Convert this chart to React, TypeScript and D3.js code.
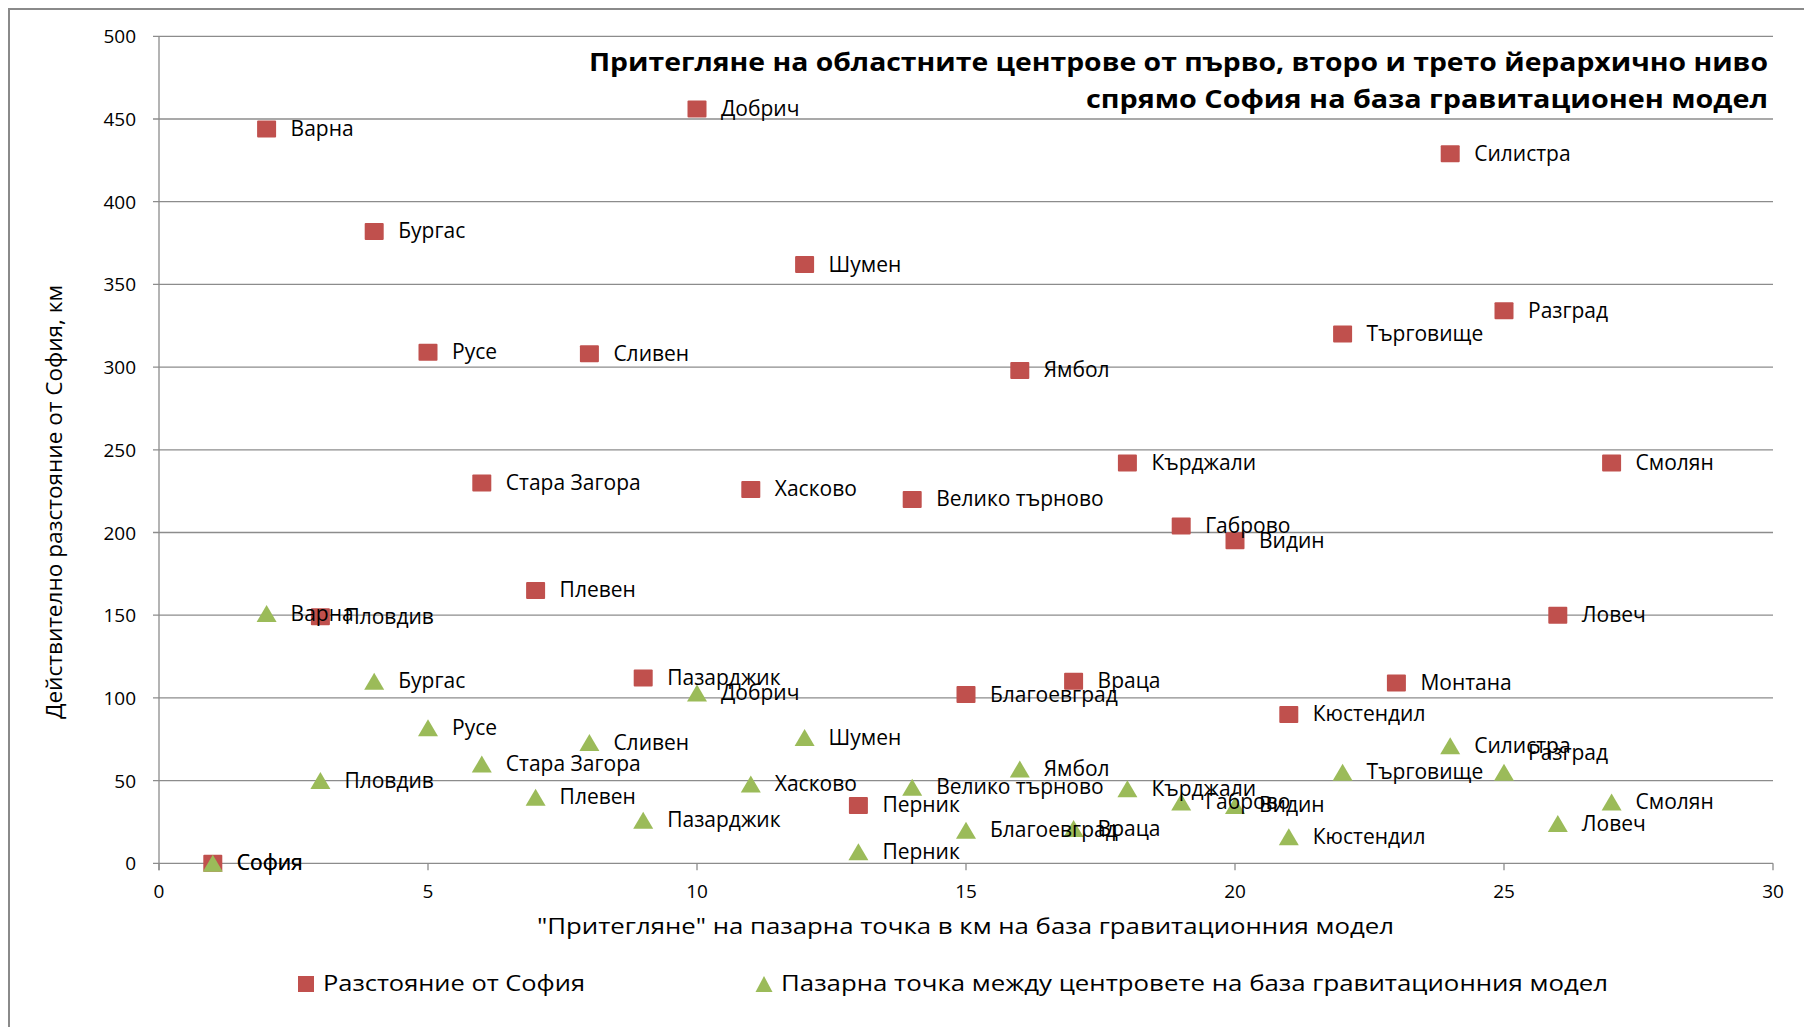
import React from 'react';
import * as d3 from 'd3';

// областни центрове, подредени по "притегляне" (ос X)
const cities = [
  'София', 'Варна', 'Пловдив', 'Бургас', 'Русе', 'Стара Загора', 'Плевен', 'Сливен',
  'Пазарджик', 'Добрич', 'Хасково', 'Шумен', 'Перник', 'Велико търново', 'Благоевград',
  'Ямбол', 'Враца', 'Кърджали', 'Габрово', 'Видин', 'Кюстендил', 'Търговище', 'Монтана',
  'Силистра', 'Разград', 'Ловеч', 'Смолян',
];
const attraction = [1, 2, 3, 4, 5, 6, 7, 8, 9, 10, 11, 12, 13, 14, 15, 16, 17, 18, 19, 20, 21, 22, 23, 24, 25, 26, 27];
const distanceFromSofia = [
  0, 444, 149, 382, 309, 230, 165, 308, 112, 456, 226, 362, 35, 220, 102,
  298, 110, 242, 204, 195, 90, 320, 109, 429, 334, 150, 242,
];
const marketPoint: (number | null)[] = [
  0, 151, 50, 110, 82, 60, 40, 73, 26, 103, 48, 76, 7, 46, 20,
  57, 21, 45, 37, 35, 16, 55, null, 71, 55, 24, 37,
];
const xTicks = [0, 5, 10, 15, 20, 25, 30];
const yTicks = [0, 50, 100, 150, 200, 250, 300, 350, 400, 450, 500];

const titleLines = [
  'Притегляне на областните центрове от първо, второ и трето йерархично ниво',
  'спрямо София на база гравитационен модел',
];
const xTitle = '"Притегляне" на пазарна точка в км на база гравитационния модел';
const yTitle = 'Действително разстояние от София, км';
const seriesNames = ['Разстояние от София', 'Пазарна точка между центровете на база гравитационния модел'];

// ръчно преместен етикет (Разград, зелена серия)
const greenLabelNudge: Record<string, number> = { 'Разград': -19 };

const RED = '#C0504D';
const GREEN = '#9BBB59';
const GRID = '#8c8c8c';
const FONT = '"Open Sans", sans-serif';

const W = 1804;
const H = 1027;

const tri = (cx: number, cy: number, w = 20, h = 17) =>
  `M${cx},${cy - h / 2}L${cx + w / 2},${cy + h / 2}L${cx - w / 2},${cy + h / 2}Z`;

export default function App() {
  const x = d3.scaleLinear().domain([0, 30]).range([159, 1773]);
  const y = d3.scaleLinear().domain([0, 500]).range([863.3, 36.3]);

  const red = cities.map((c, i) => ({ name: c, x: attraction[i], y: distanceFromSofia[i] }));
  const green = cities
    .map((c, i) => ({ name: c, x: attraction[i], y: marketPoint[i] }))
    .filter((d) => d.y !== null) as { name: string; x: number; y: number }[];

  const titleWidths = [1179, 682];

  return (
    <svg
      width={W}
      height={H}
      style={{ position: 'absolute', left: 0, top: 0, background: '#fff' }}
      fontFamily={FONT}
    >
      <rect x={9} y={9} width={W + 20} height={H + 20} fill="#fff" stroke="#8a8a8a" strokeWidth={2} />

      {/* мрежа */}
      {yTicks.map((t) => (
        <g key={'gy' + t}>
          <line x1={x(0) - 6} x2={x(30)} y1={y(t)} y2={y(t)} stroke={GRID} strokeWidth={1.3} />
          <text x={136} y={y(t) + 7} textAnchor="end" fontSize={19} fill="#000">
            {t}
          </text>
        </g>
      ))}
      <line x1={x(0)} x2={x(0)} y1={y(500)} y2={y(0) + 7} stroke={GRID} strokeWidth={1.3} />
      {xTicks.map((t) => (
        <g key={'gx' + t}>
          <line x1={x(t)} x2={x(t)} y1={y(0)} y2={y(0) + 7} stroke={GRID} strokeWidth={1.3} />
          <text x={x(t)} y={898} textAnchor="middle" fontSize={19} fill="#000">
            {t}
          </text>
        </g>
      ))}

      {/* заглавие */}
      {titleLines.map((l, i) => (
        <text
          key={l}
          x={1768 - titleWidths[i]}
          y={71 + i * 37}
          fontSize={25}
          fontWeight="bold"
          fill="#000"
          textLength={titleWidths[i]}
          lengthAdjust="spacingAndGlyphs"
        >
          {l}
        </text>
      ))}

      {/* червена серия */}
      {red.map((d) => (
        <rect
          key={'r' + d.name}
          x={x(d.x) - 9.5}
          y={y(d.y) - 8.5}
          width={19}
          height={17}
          rx={1}
          fill={RED}
        />
      ))}
      {/* зелена серия */}
      {green.map((d) => (
        <path key={'g' + d.name} d={tri(x(d.x), y(d.y))} fill={GREEN} />
      ))}

      {red.map((d) => (
        <text key={'rl' + d.name} x={x(d.x) + 24} y={y(d.y) + 7} fontSize={21} fill="#000">
          {d.name}
        </text>
      ))}
      {green.map((d) => (
        <text
          key={'gl' + d.name}
          x={x(d.x) + 24}
          y={y(d.y) + 7 + (greenLabelNudge[d.name] ?? 0)}
          fontSize={21}
          fill="#000"
        >
          {d.name}
        </text>
      ))}

      {/* заглавия на осите */}
      <text x={537} y={934} fontSize={22} fill="#000" textLength={857} lengthAdjust="spacingAndGlyphs">
        {xTitle}
      </text>
      <text
        transform={`translate(62,719) rotate(-90)`}
        fontSize={21}
        fill="#000"
        textLength={434}
        lengthAdjust="spacingAndGlyphs"
      >
        {yTitle}
      </text>

      {/* легенда */}
      <rect x={298} y={976} width={16} height={16} fill={RED} />
      <text x={323} y={991} fontSize={22} fill="#000" textLength={262} lengthAdjust="spacingAndGlyphs">
        {seriesNames[0]}
      </text>
      <path d={tri(764, 984, 17, 16)} fill={GREEN} />
      <text x={781} y={991} fontSize={22} fill="#000" textLength={827} lengthAdjust="spacingAndGlyphs">
        {seriesNames[1]}
      </text>
    </svg>
  );
}
